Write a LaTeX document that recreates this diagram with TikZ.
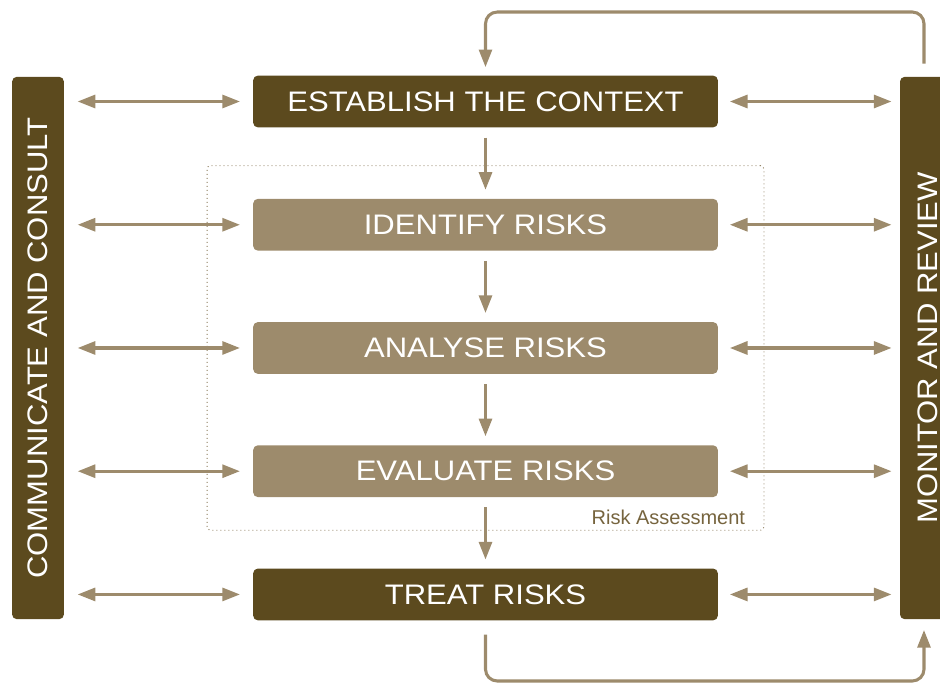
\documentclass[tikz,border=0pt]{standalone}
\usepackage{fontspec}
\setmainfont{Liberation Sans}
\newfontfamily\stagefont{Liberation Sans}[FakeStretch=1.1]
\usetikzlibrary{arrows.meta, positioning, fit}
\definecolor{darkbrown}{RGB}{92,74,30}
\definecolor{lightbrown}{RGB}{157,139,108}
\definecolor{labelbrown}{RGB}{118,100,62}
\tikzset{
	stage/.style={rounded corners=4pt, minimum width=395pt, minimum height=44pt, inner sep=0pt, text=white, font=\stagefont\fontsize{24}{24}\selectfont},
	keystage/.style={stage, fill=darkbrown},
	riskstage/.style={stage, fill=lightbrown},
	sidebar/.style={stage, fill=darkbrown, minimum width=44pt, minimum height=461pt},
	flow/.style={draw=lightbrown, line width=2.6pt, -{Triangle[length=15pt, width=11pt]}},
	link/.style={flow, {Triangle[length=15pt, width=11pt]}-{Triangle[length=15pt, width=11pt]}},
	assess/.style={draw=labelbrown!85, line width=0.8pt, dash pattern=on 0.8pt off 2.6pt, rounded corners=3pt}
}

\begin{document}
\begin{tikzpicture}[x=0.85pt, y=-0.85pt, node distance=60.35pt]
	\useasboundingbox (0,0) rectangle (940,683);
	\clip (0,0) rectangle (940,683);

	% --- Process steps ---
	\node[keystage] (context) at (485.5,101.5) {ESTABLISH THE CONTEXT};
	\node[riskstage, below=of context] (identify) {IDENTIFY RISKS};
	\node[riskstage, below=of identify] (analyse) {ANALYSE RISKS};
	\node[riskstage, below=of analyse] (evaluate) {EVALUATE RISKS};
	\node[keystage, below=of evaluate] (treat) {TREAT RISKS};

	% --- Side bars ---
	\node[sidebar] (comm) at (38,348) {\rotatebox{90}{COMMUNICATE AND CONSULT}};
	\node[sidebar, minimum width=47.6pt] (monitor) at (928,348) {\rotatebox{90}{MONITOR AND REVIEW}};

	% Risk assessment frame
	\node[assess, fit=(identify)(evaluate), inner xsep=39pt, inner ysep=28pt] (assessment) {};
	\node[anchor=base east, text=labelbrown, font=\fontsize{17}{17}\selectfont] (assesslabel) at ([xshift=-13pt, yshift=5pt]assessment.south east) {Risk Assessment};

	% Links to the side bars
	\foreach \s in {context, identify, analyse, evaluate, treat} {
		\draw[link, shorten <=11.5pt, shorten >=11pt] (comm.east |- \s.west) -- (\s.west);
		\draw[link, shorten <=10pt, shorten >=7pt] (\s.east) -- (monitor.west |- \s.east);
	}

	% Flow down the steps
	\foreach \a/\b in {context/identify, identify/analyse, analyse/evaluate, evaluate/treat}
		\draw[flow, shorten <=8.5pt, shorten >=7.5pt] (\a.south) -- (\b.north);

	% Feedback loops
	\coordinate (mtop) at ([xshift=-3.4pt]monitor.north);
	\coordinate (mbot) at ([xshift=-3.4pt]monitor.south);
	\coordinate (loopabove) at (0,12);
	\coordinate (loopbelow) at (0,681);
	\draw[flow, rounded corners=10pt, shorten <=11pt, shorten >=7pt] (mtop) |- (loopabove -| context.north) -- (context.north);
	\draw[flow, rounded corners=10pt, shorten <=12pt, shorten >=9pt] (treat.south) |- (loopbelow -| mbot) -- (mbot);
\end{tikzpicture}
\end{document}
